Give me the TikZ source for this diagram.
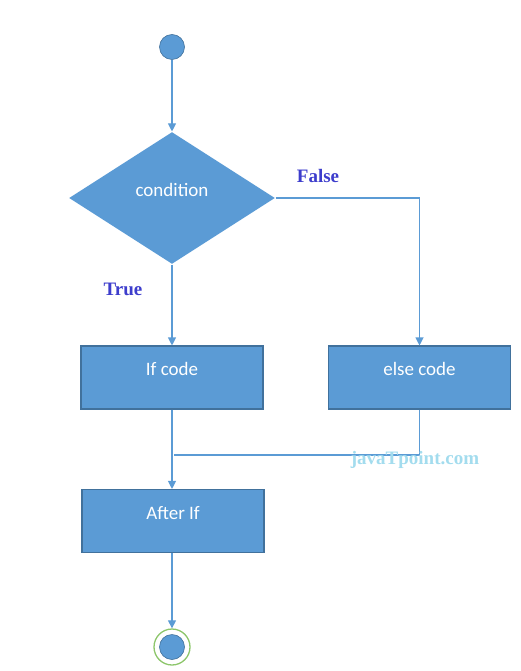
\documentclass[tikz,border=0pt]{standalone}
\usepackage{fontspec}
\setmainfont{Liberation Serif}
\newfontfamily\boxfont{Carlito}
\usetikzlibrary{shapes.geometric, arrows.meta}
\definecolor{flowblue}{HTML}{5B9BD5}
\definecolor{flowedge}{HTML}{41719C}
\definecolor{branchblue}{HTML}{3D3DCC}
\definecolor{markblue}{HTML}{A3DCEE}
\definecolor{ringgreen}{HTML}{8DC66B}
\begin{document}
\begin{tikzpicture}[
  x=1pt, y=-1pt,
  dot/.style={circle, fill=flowblue, draw=flowedge, line width=0.6pt, minimum size=25pt, inner sep=0pt},
  box/.style={draw=flowedge, rectangle, fill=flowblue, line width=1.1pt, minimum width=182pt, minimum height=63pt,
    inner sep=0pt, text height=10pt, text depth=14pt, text=white, font=\boxfont\fontsize{19}{22}\selectfont},
  decision/.style={box, diamond, draw=none, minimum width=206pt, minimum height=132pt},
  arrow/.style={-{Triangle[width=8pt, length=8pt]}, line width=1.1pt, draw=flowblue},
  wire/.style={line width=1.1pt, draw=flowblue},
  branch/.style={font=\bfseries\fontsize{19}{22}\selectfont, text=branchblue}]
  \useasboundingbox (0,0) rectangle (521,671);
  % Start and decision
  \node[dot] (start) at (172,47) {};
  \node[decision] (cond) at (172,198) {condition};
  \node[branch] (false) at (318,176) {False};
  \node[branch] (true) at (123,289) {True};
  \draw[arrow] (start) -- (cond);
  % Branches
  \node[box] (ifcode) at (172,377.5) {If code};
  \node[box] (elsecode) at (419.5,377.5) {else code};
  \draw[arrow] (cond) -- (ifcode);
  \draw[arrow] (cond.east) -| (elsecode.north);
  % Join
  \coordinate (join) at (174,455);
  \node[box] (after) at (173,521) {After If};
  \draw[arrow] (ifcode.south) -- (ifcode.south |- after.north);
  \draw[wire] (elsecode.south) |- (join);
  \node[font=\bfseries\fontsize{19}{22}\selectfont, text=markblue] (mark) at (415,460) {javaTpoint.com};
  % End
  \node[circle, draw=ringgreen, line width=1.3pt, fill=white, minimum size=36pt, inner sep=0pt] (stop) at (172,647) {};
  \node[dot] (stopdot) at (stop) {};
  \draw[arrow] (ifcode.south |- after.south) -- (stop);
\end{tikzpicture}
\end{document}
